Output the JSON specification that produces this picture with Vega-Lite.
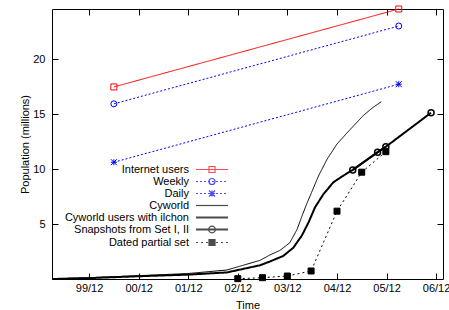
{
  "$schema": "https://vega.github.io/schema/vega-lite/v6.json",
  "width": 391,
  "height": 270,
  "autosize": {"type": "none"},
  "padding": {"left": 52, "top": 9, "right": 6, "bottom": 31},
  "config": {
    "view": {"stroke": "black", "strokeWidth": 1},
    "font": "Liberation Sans",
    "axis": {
      "domain": false, "grid": false, "tickColor": "black", "tickSize": -6, "tickWidth": 1,
      "labelFontSize": 11, "labelColor": "black", "labelFont": "Liberation Sans",
      "titleFontSize": 11, "titleFontWeight": "normal", "titleColor": "black", "titleFont": "Liberation Sans"
    },
    "legend": {
      "orient": "none", "legendX": 154.5, "legendY": 155,
      "labelAlign": "right", "labelOffset": -28.5, "labelFontSize": 11, "labelColor": "black", "labelFont": "Liberation Sans", "labelLimit": 400,
      "symbolSize": 81, "rowPadding": 0, "symbolStrokeWidth": 1.2, "padding": 0
    }
  },
  "data": {
    "values": [
      {"series": "Internet users", "date": "2000-06-01", "value": 17.5},
      {"series": "Internet users", "date": "2006-03-01", "value": 24.6},
      {"series": "Weekly", "date": "2000-06-01", "value": 15.96},
      {"series": "Weekly", "date": "2006-03-01", "value": 23.05},
      {"series": "Daily", "date": "2000-06-01", "value": 10.64},
      {"series": "Daily", "date": "2006-03-01", "value": 17.75},
      {"series": "Cyworld", "date": "1999-03-05", "value": 0.02},
      {"series": "Cyworld", "date": "1999-12-01", "value": 0.12},
      {"series": "Cyworld", "date": "2000-11-28", "value": 0.3},
      {"series": "Cyworld", "date": "2001-12-01", "value": 0.5},
      {"series": "Cyworld", "date": "2002-09-12", "value": 0.82},
      {"series": "Cyworld", "date": "2003-05-14", "value": 1.7},
      {"series": "Cyworld", "date": "2003-07-27", "value": 2.2},
      {"series": "Cyworld", "date": "2003-10-07", "value": 2.6},
      {"series": "Cyworld", "date": "2003-12-19", "value": 3.3},
      {"series": "Cyworld", "date": "2004-02-10", "value": 4.5},
      {"series": "Cyworld", "date": "2004-03-17", "value": 5.7},
      {"series": "Cyworld", "date": "2004-04-22", "value": 6.85},
      {"series": "Cyworld", "date": "2004-05-28", "value": 7.9},
      {"series": "Cyworld", "date": "2004-07-18", "value": 9.4},
      {"series": "Cyworld", "date": "2004-09-18", "value": 10.9},
      {"series": "Cyworld", "date": "2004-12-01", "value": 12.3},
      {"series": "Cyworld", "date": "2005-02-12", "value": 13.3},
      {"series": "Cyworld", "date": "2005-06-13", "value": 14.9},
      {"series": "Cyworld", "date": "2005-08-20", "value": 15.6},
      {"series": "Cyworld", "date": "2005-10-23", "value": 16.15},
      {"series": "Cyworld users with ilchon", "date": "1999-03-05", "value": 0.0},
      {"series": "Cyworld users with ilchon", "date": "1999-12-01", "value": 0.08},
      {"series": "Cyworld users with ilchon", "date": "2000-11-28", "value": 0.25},
      {"series": "Cyworld users with ilchon", "date": "2001-12-01", "value": 0.4},
      {"series": "Cyworld users with ilchon", "date": "2002-09-12", "value": 0.6},
      {"series": "Cyworld users with ilchon", "date": "2003-05-14", "value": 1.25},
      {"series": "Cyworld users with ilchon", "date": "2003-07-27", "value": 1.6},
      {"series": "Cyworld users with ilchon", "date": "2003-11-01", "value": 2.1},
      {"series": "Cyworld users with ilchon", "date": "2004-01-14", "value": 2.85},
      {"series": "Cyworld users with ilchon", "date": "2004-03-17", "value": 3.96},
      {"series": "Cyworld users with ilchon", "date": "2004-05-06", "value": 5.18},
      {"series": "Cyworld users with ilchon", "date": "2004-06-23", "value": 6.55},
      {"series": "Cyworld users with ilchon", "date": "2004-08-24", "value": 7.75},
      {"series": "Cyworld users with ilchon", "date": "2004-11-05", "value": 8.82},
      {"series": "Cyworld users with ilchon", "date": "2005-01-17", "value": 9.42},
      {"series": "Cyworld users with ilchon", "date": "2005-03-27", "value": 9.94},
      {"series": "Cyworld users with ilchon", "date": "2005-09-26", "value": 11.55},
      {"series": "Cyworld users with ilchon", "date": "2005-11-26", "value": 12.05},
      {"series": "Snapshots from Set I, II", "date": "2005-03-27", "value": 9.94},
      {"series": "Snapshots from Set I, II", "date": "2005-09-26", "value": 11.55},
      {"series": "Snapshots from Set I, II", "date": "2005-11-26", "value": 12.05},
      {"series": "Snapshots from Set I, II", "date": "2006-10-25", "value": 15.15},
      {"series": "Dated partial set", "date": "2002-12-01", "value": 0.03},
      {"series": "Dated partial set", "date": "2003-06-01", "value": 0.12},
      {"series": "Dated partial set", "date": "2003-12-01", "value": 0.27},
      {"series": "Dated partial set", "date": "2004-05-24", "value": 0.73},
      {"series": "Dated partial set", "date": "2004-12-01", "value": 6.18},
      {"series": "Dated partial set", "date": "2005-06-01", "value": 9.73},
      {"series": "Dated partial set", "date": "2005-11-26", "value": 11.6}
    ]
  },
  "resolve": {
    "axis": {"x": "independent", "y": "independent"},
    "scale": {"stroke": "independent", "shape": "independent"}
  },
  "layer": [
    {
      "mark": {"type": "line", "interpolate": "linear"},
      "encoding": {
        "x": {
          "field": "date", "type": "temporal",
          "scale": {"domain": [{"year": 1999, "month": 3, "date": 3}, {"year": 2007, "month": 1, "date": 21}]},
          "axis": {
            "orient": "bottom", "title": "Time", "format": "%y/%m",
            "values": [{"year": 1999, "month": 12, "date": 1}, {"year": 2000, "month": 12, "date": 1}, {"year": 2001, "month": 12, "date": 1}, {"year": 2002, "month": 12, "date": 1}, {"year": 2003, "month": 12, "date": 1}, {"year": 2004, "month": 12, "date": 1}, {"year": 2005, "month": 12, "date": 1}, {"year": 2006, "month": 12, "date": 1}],
            "labelPadding": 9, "titlePadding": 6, "labelFlush": false, "labelOverlap": false
          }
        },
        "y": {
          "field": "value", "type": "quantitative",
          "scale": {"domain": [0, 24.6], "nice": false, "zero": false},
          "axis": {"orient": "left", "title": "Population (millions)", "values": [5, 10, 15, 20], "labelPadding": 13, "titlePadding": 2}
        },
        "stroke": {
          "field": "series", "type": "nominal", "legend": null,
          "scale": {
            "domain": ["Internet users", "Weekly", "Daily", "Cyworld", "Cyworld users with ilchon", "Snapshots from Set I, II", "Dated partial set"],
            "range": ["#ff0000", "#0000ff", "#0000ff", "#000000", "#000000", "#000000", "#000000"]
          }
        },
        "strokeDash": {
          "field": "series", "type": "nominal", "legend": null,
          "scale": {
            "domain": ["Internet users", "Weekly", "Daily", "Cyworld", "Cyworld users with ilchon", "Snapshots from Set I, II", "Dated partial set"],
            "range": [[1, 0], [2, 2], [2, 2], [1, 0], [1, 0], [1, 0], [2, 3]]
          }
        },
        "strokeWidth": {
          "condition": {"test": "datum.series === 'Cyworld users with ilchon' || datum.series === 'Snapshots from Set I, II'", "value": 2},
          "value": 1
        }
      }
    },
    {
      "transform": [{"filter": "datum.series !== 'Cyworld' && datum.series !== 'Cyworld users with ilchon'"}],
      "mark": {"type": "point", "size": 36, "opacity": 1},
      "encoding": {
        "x": {
          "field": "date", "type": "temporal",
          "axis": {
            "orient": "top", "title": null, "labels": false,
            "values": [{"year": 1999, "month": 12, "date": 1}, {"year": 2000, "month": 12, "date": 1}, {"year": 2001, "month": 12, "date": 1}, {"year": 2002, "month": 12, "date": 1}, {"year": 2003, "month": 12, "date": 1}, {"year": 2004, "month": 12, "date": 1}, {"year": 2005, "month": 12, "date": 1}, {"year": 2006, "month": 12, "date": 1}]
          }
        },
        "y": {
          "field": "value", "type": "quantitative",
          "axis": {"orient": "right", "title": null, "labels": false, "values": [5, 10, 15, 20]}
        },
        "stroke": {
          "field": "series", "type": "nominal", "legend": null,
          "scale": {
            "domain": ["Internet users", "Weekly", "Daily", "Snapshots from Set I, II", "Dated partial set"],
            "range": ["#ff0000", "#0000ff", "#0000ff", "#000000", "#000000"]
          }
        },
        "shape": {
          "field": "series", "type": "nominal", "legend": null,
          "scale": {
            "domain": ["Internet users", "Weekly", "Daily", "Snapshots from Set I, II", "Dated partial set"],
            "range": ["square", "circle", "M-1,-1L1,1M-1,1L1,-1M0,-1V1M-1,0H1", "circle", "square"]
          }
        },
        "fill": {
          "condition": {"test": "datum.series === 'Dated partial set'", "value": "black"},
          "value": "transparent"
        },
        "strokeWidth": {
          "condition": {"test": "datum.series === 'Snapshots from Set I, II'", "value": 1.5},
          "value": 1
        }
      }
    },
    {
      "transform": [{"filter": "false"}],
      "mark": {"type": "point"},
      "encoding": {
        "shape": {
          "field": "series", "type": "nominal",
          "scale": {
            "domain": ["Internet users", "Weekly", "Daily", "Cyworld", "Cyworld users with ilchon", "Snapshots from Set I, II", "Dated partial set"],
            "range": [
              "M-3.55,0H3.55M-0.67,-0.67H0.67V0.67H-0.67Z",
              "M-3.55,0h0.44m0.45,0h0.44m0.45,0h0.44m0.45,0h0.44m0.45,0h0.44m0.45,0h0.44m0.45,0h0.44m0.45,0h0.44M0.67,0A0.67,0.67,0,1,1,-0.67,0A0.67,0.67,0,1,1,0.67,0Z",
              "M-3.55,0h0.44m0.45,0h0.44m0.45,0h0.44m0.45,0h0.44m0.45,0h0.44m0.45,0h0.44m0.45,0h0.44m0.45,0h0.44M-0.67,-0.67L0.67,0.67M-0.67,0.67L0.67,-0.67M0,-0.67V0.67M-0.67,0H0.67",
              "M-3.55,0H3.55",
              "M-3.55,-0.1H3.55M-3.55,0.1H3.55",
              "M-3.55,-0.1H3.55M-3.55,0.1H3.55M0.75,0A0.75,0.75,0,1,1,-0.75,0A0.75,0.75,0,1,1,0.75,0Z",
              "M-3.55,0h0.44m0.67,0h0.44m0.67,0h0.44m0.67,0h0.44m0.67,0h0.44m0.67,0h0.44m0.67,0h0.44M-0.67,-0.67H0.67V0.67H-0.67ZM-0.67,-0.4H0.67M-0.67,-0.13H0.67M-0.67,0.13H0.67M-0.67,0.4H0.67"
            ]
          },
          "legend": {"title": null}
        },
        "stroke": {
          "field": "series", "type": "nominal",
          "scale": {
            "domain": ["Internet users", "Weekly", "Daily", "Cyworld", "Cyworld users with ilchon", "Snapshots from Set I, II", "Dated partial set"],
            "range": ["#ff0000", "#0000ff", "#0000ff", "#000000", "#000000", "#000000", "#000000"]
          },
          "legend": {"title": null}
        }
      }
    }
  ]
}
